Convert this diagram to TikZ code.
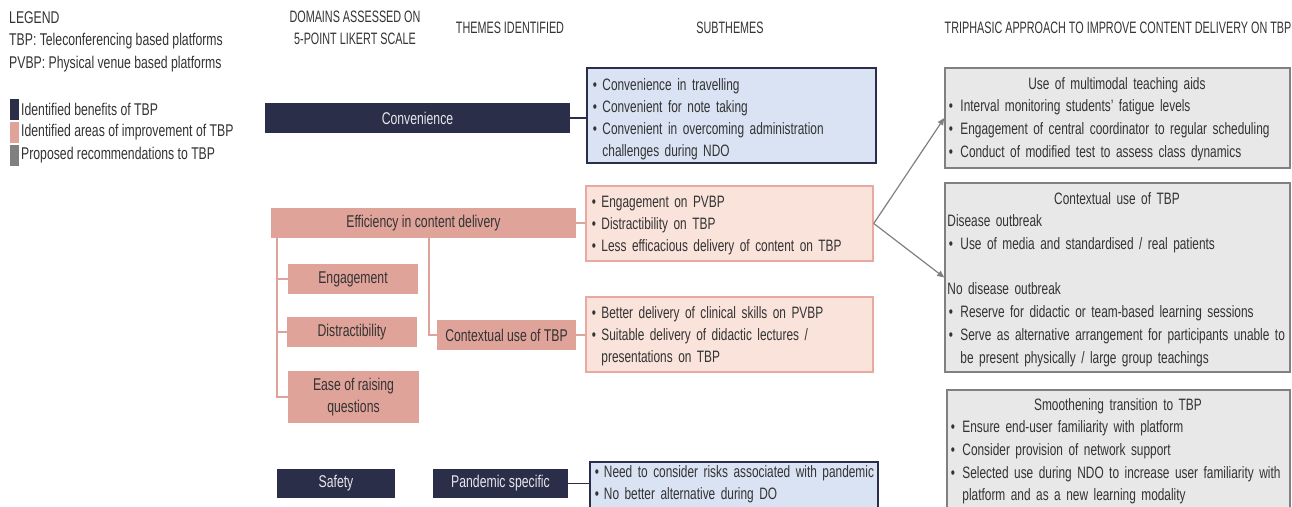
\documentclass[tikz,border=0pt]{standalone}
\usepackage{fontspec}
\setmainfont{Liberation Sans}[FakeStretch=0.72]
\newfontfamily\hdrfont{Liberation Sans}[FakeStretch=0.655]
\usetikzlibrary{calc,arrows.meta}
\definecolor{navy}{HTML}{2B2E48}
\definecolor{pinkd}{HTML}{E0A39A}
\definecolor{pinkf}{HTML}{FAE3DA}
\definecolor{pinkb}{HTML}{E8A9A0}
\definecolor{bluef}{HTML}{DAE3F3}
\definecolor{grayf}{HTML}{E8E8E8}
\definecolor{grayb}{HTML}{808080}
\definecolor{txt}{HTML}{333333}
\definecolor{lighttxt}{HTML}{E6E6EA}
\hyphenpenalty=10000
\exhyphenpenalty=10000
\newcommand{\bitem}[2][11pt]{\par\noindent\hangindent=#1\hangafter=1\strut\makebox[#1][l]{\hspace{1.5pt}\textbullet}#2\par}
\newcommand{\ttl}[1]{\par\noindent\strut\makebox[\linewidth][c]{#1}\par}
\newcommand{\plain}[1]{\par\noindent\strut #1\par}
\newcommand{\nl}{\hfil\break}
\begin{document}
\begin{tikzpicture}[x=1pt,y=-1pt,
  every node/.style={font=\fontsize{16.5}{22}\selectfont, text=txt},
  hdr/.style={align=center, inner sep=0pt, font=\hdrfont\fontsize{16.5}{22}\selectfont},
  leg/.style={anchor=west, inner sep=0pt, font=\fontsize{17}{22}\selectfont},
  legsq/.style={minimum width=9pt, minimum height=21pt, inner sep=0pt},
  darkbox/.style={fill=navy, text=lighttxt, inner sep=0pt, align=center, font=\fontsize{17}{22}\selectfont},
  pinkbox/.style={fill=pinkd, inner sep=0pt, align=center, font=\fontsize{17}{22}\selectfont},
  bluebox/.style={fill=bluef, draw=navy, line width=1.5pt, inner sep=0pt},
  peachbox/.style={fill=pinkf, draw=pinkb, line width=1.5pt, inner sep=0pt},
  graybox/.style={fill=grayf, draw=grayb, line width=1.5pt, inner sep=0pt},
  boxtext/.style={anchor=north west, align=left, inner xsep=5pt},
  graytext/.style={anchor=north west, align=left, inner xsep=3pt, font=\fontsize{16.5}{22.7}\selectfont},
  navyline/.style={draw=navy, line width=1.5pt},
  pinkline/.style={draw=pinkd, line width=1.5pt},
  arr/.style={draw=grayb, line width=1.2pt, -{Triangle[length=7pt,width=6pt]}}
]
\useasboundingbox (0,0) rectangle (1292,506);
\clip (0,0) rectangle (1292,506);

% legend
\node[leg] (legtitle) at (9,18) {LEGEND};
\node[leg] (legtbp) at (9,41) {TBP: Teleconferencing based platforms};
\node[leg] (legpvbp) at (9,64) {PVBP: Physical venue based platforms};
\node[legsq, fill=navy] (sq1) at (14.5,109.5) {};
\node[legsq, fill=pinkd] (sq2) at (14.5,132.5) {};
\node[legsq, fill=grayb] (sq3) at (14.5,155.5) {};
\node[leg] (l1) at (21,109) {Identified benefits of TBP};
\node[leg] (l2) at (21,132) {Identified areas of improvement of TBP};
\node[leg] (l3) at (21,155) {Proposed recommendations to TBP};

% headers
\node[hdr] (h1) at (355,28) {DOMAINS ASSESSED ON\\5-POINT LIKERT SCALE};
\node[hdr] (h2) at (510,28) {THEMES IDENTIFIED};
\node[hdr] (h3) at (730,28) {SUBTHEMES};
\node[hdr] (h4) at (1118,28) {TRIPHASIC APPROACH TO IMPROVE CONTENT DELIVERY ON TBP};

% domain / theme boxes
\node[darkbox, minimum width=305pt, minimum height=30pt] (conv) at (417.5,118) {Convenience};
\node[pinkbox, minimum width=305pt, minimum height=30pt] (eff) at (423.5,223) {Efficiency in content delivery};
\node[pinkbox, minimum width=130pt, minimum height=30pt] (eng) at (353,279) {Engagement};
\node[pinkbox, minimum width=130pt, minimum height=30pt] (dist) at (352,332) {Distractibility};
\node[pinkbox, minimum width=131pt, minimum height=52pt] (ease) at (353.5,397) {Ease of raising\\questions};
\node[pinkbox, minimum width=139pt, minimum height=30pt] (ctx) at (506.5,335) {Contextual use of TBP};
\node[darkbox, minimum width=118pt, minimum height=29pt] (safety) at (336,483.5) {Safety};
\node[darkbox, minimum width=135pt, minimum height=29pt] (pand) at (500.5,483.5) {Pandemic specific};

% subtheme boxes
\node[bluebox, minimum width=289pt, minimum height=95pt] (convsub) at (731.5,115.5) {};
\node[boxtext, text width=300pt, inner ysep=1pt] (convsubtxt) at (convsub.north west) {%
\bitem{Convenience in travelling}
\bitem{Convenient for note taking}
\bitem{Convenient in overcoming administration\nl challenges during NDO}};
\node[peachbox, minimum width=287pt, minimum height=75pt] (effsub) at (729.5,223.5) {};
\node[boxtext, text width=300pt, inner ysep=0pt] (effsubtxt) at (effsub.north west) {%
\bitem{Engagement on PVBP}
\bitem{Distractibility on TBP}
\bitem{Less efficacious delivery of content on TBP}};
\node[peachbox, minimum width=287pt, minimum height=75pt] (ctxsub) at (729.5,334.5) {};
\node[boxtext, text width=300pt, inner ysep=0pt] (ctxsubtxt) at (ctxsub.north west) {%
\bitem{Better delivery of clinical skills on PVBP}
\bitem{Suitable delivery of didactic lectures /\nl presentations on TBP}};
\node[bluebox, minimum width=288pt, minimum height=60pt] (pandsub) at (734,492) {};
\node[boxtext, text width=300pt, inner ysep=-6pt, inner xsep=4pt] (pandsubtxt) at (pandsub.north west) {%
\bitem[10.5pt]{Need to consider risks associated with pandemic}
\bitem[10.5pt]{No better alternative during DO}};

% recommendation boxes
\node[graybox, minimum width=345pt, minimum height=100pt] (rec1) at (1117.5,118) {};
\node[graytext, text width=339pt, inner ysep=-1pt] (rec1txt) at (rec1.north west) {%
\ttl{Use of multimodal teaching aids}
\bitem[13pt]{Interval monitoring students' fatigue levels}
\bitem[13pt]{Engagement of central coordinator to regular scheduling}
\bitem[13pt]{Conduct of modified test to assess class dynamics}};
\node[graybox, minimum width=345pt, minimum height=189pt] (rec2) at (1117.5,277.5) {};
\node[graytext, text width=339pt, inner ysep=-1pt] (rec2txt) at (rec2.north west) {%
\ttl{Contextual use of TBP}
\plain{Disease outbreak}
\bitem[13pt]{Use of media and standardised / real patients}
\plain{}
\plain{No disease outbreak}
\bitem[13pt]{Reserve for didactic or team-based learning sessions}
\bitem[13pt]{Serve as alternative arrangement for participants unable to\nl be present physically / large group teachings}};
\node[graybox, minimum width=343pt, minimum height=130pt] (rec3) at (1118.5,455) {};
\node[graytext, text width=337pt, inner ysep=-2pt] (rec3txt) at (rec3.north west) {%
\ttl{Smoothening transition to TBP}
\bitem[13pt]{Ensure end-user familiarity with platform}
\bitem[13pt]{Consider provision of network support}
\bitem[13pt]{Selected use during NDO to increase user familiarity with\nl platform and as a new learning modality}};

% connectors
\draw[navyline] (conv.east) -- (conv.east -| convsub.west);
\draw[pinkline] (eff.east) -- (eff.east -| effsub.west);
\draw[pinkline] (ctx.east) -- (ctx.east -| ctxsub.west);
\draw[navyline] (pand.east) -- (pand.east -| pandsub.west);
\draw[pinkline] ([xshift=6pt]eff.south west) |- (eng.west);
\draw[pinkline] ([xshift=6pt]eff.south west) |- (dist.west);
\draw[pinkline] ([xshift=6pt]eff.south west) |- (ease.west);
\draw[pinkline] ([xshift=158pt]eff.south west) |- (ctx.west);
\draw[arr] (effsub.east) -- (rec1.west);
\draw[arr] (effsub.east) -- (rec2.west);
\end{tikzpicture}
\end{document}
